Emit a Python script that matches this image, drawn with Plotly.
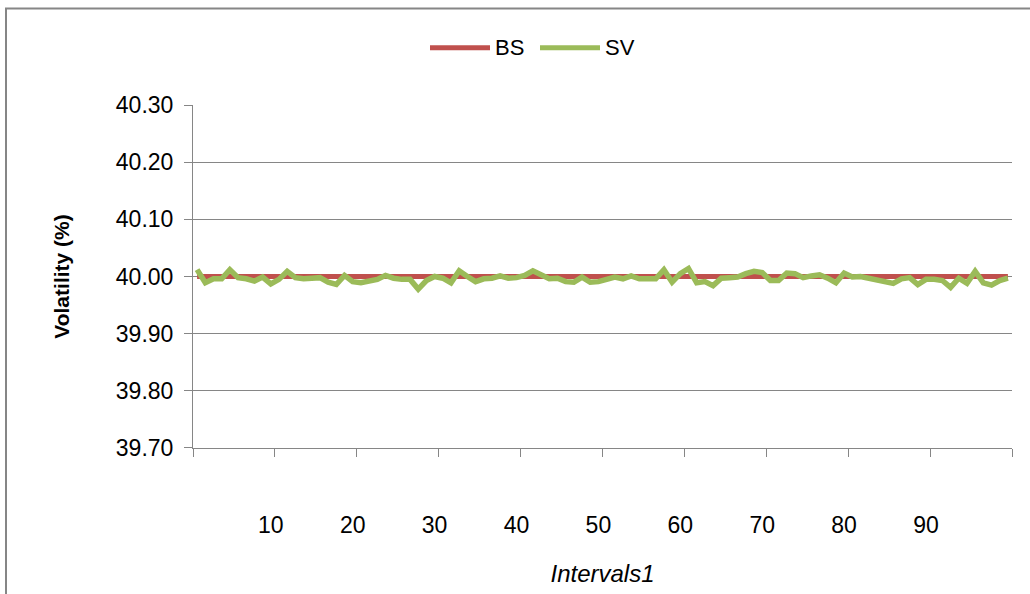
import plotly.graph_objects as go

# Interval index (category axis) and the two volatility series, in percent
intervals = list(range(1, 101))
bs_vol = [40.00] * 100
sv_vol = [
    40.012, 39.989, 39.996, 39.996, 40.012, 39.998, 39.996, 39.992, 39.999, 39.987,
    39.995, 40.009, 39.998, 39.996, 39.997, 39.998, 39.990, 39.986, 40.002, 39.991,
    39.989, 39.991, 39.995, 40.002, 39.997, 39.995, 39.995, 39.978, 39.993, 40.000,
    39.997, 39.989, 40.010, 40.000, 39.991, 39.996, 39.997, 40.001, 39.997, 39.998,
    40.002, 40.010, 40.003, 39.996, 39.997, 39.991, 39.990, 39.999, 39.990, 39.991,
    39.995, 39.999, 39.996, 40.001, 39.996, 39.995, 39.996, 40.012, 39.990, 40.005,
    40.014, 39.989, 39.991, 39.984, 39.997, 39.998, 39.999, 40.005, 40.009, 40.007,
    39.993, 39.993, 40.006, 40.005, 39.998, 40.001, 40.003, 39.997, 39.989, 40.006,
    39.999, 40.000, 39.997, 39.993, 39.989, 39.988, 39.996, 39.998, 39.986, 39.995,
    39.995, 39.993, 39.981, 39.997, 39.988, 40.009, 39.989, 39.985, 39.993, 39.997,
]
series_names = ["BS", "SV"]
series_colors = ["#C0504D", "#9BBB59"]
x_tick_values = [10, 20, 30, 40, 50, 60, 70, 80, 90]
y_tick_values = [39.70, 39.80, 39.90, 40.00, 40.10, 40.20, 40.30]

FONT = "Liberation Sans, Arial, sans-serif"
GRAY = "#868686"

# Plot-area geometry in pixels (figure is 1030 x 594)
L, R, T, B = 193, 1012, 105, 453
W, H = R - L, B - T


def px_x(p):
    return (p - L) / W


def px_y(p):
    return (B - p) / H


fig = go.Figure()
fig.add_trace(go.Scatter(
    x=intervals, y=bs_vol, name=series_names[0], mode="lines",
    line=dict(color=series_colors[0], width=5), showlegend=False,
))
fig.add_trace(go.Scatter(
    x=intervals, y=sv_vol, name=series_names[1], mode="lines",
    line=dict(color=series_colors[1], width=5.5), showlegend=False,
))

shapes = [
    # outer chart frame
    dict(type="rect", xref="paper", yref="paper",
         x0=px_x(6), x1=px_x(1080), y0=px_y(640), y1=px_y(7),
         line=dict(color=GRAY, width=2), layer="below"),
]
annotations = []

# legend drawn at the top centre of the chart frame
legend_items = [(430, 490, 493), (540, 600, 603)]
for (lx0, lx1, tx), name, color in zip(legend_items, series_names, series_colors):
    shapes.append(dict(type="line", xref="paper", yref="paper",
                       x0=px_x(lx0), x1=px_x(lx1), y0=px_y(47), y1=px_y(47),
                       line=dict(color=color, width=5)))
    annotations.append(dict(text=name, xref="paper", yref="paper",
                            x=px_x(tx), y=px_y(47), xanchor="left", yanchor="middle",
                            showarrow=False, font=dict(family=FONT, size=22, color="black")))

fig.update_layout(
    width=1030, height=594,
    margin=dict(l=L, r=1030 - R, t=T, b=594 - B, pad=0),
    paper_bgcolor="white", plot_bgcolor="white",
    font=dict(family=FONT, color="black"),
    showlegend=False,
    shapes=shapes,
    annotations=annotations,
    xaxis=dict(
        range=[0.5, 100.5],
        tickmode="array", tickvals=x_tick_values,
        ticks="", ticklabelstandoff=56,
        tickfont=dict(size=23, family=FONT, color="black"),
        showgrid=False, zeroline=False,
        showline=True, linecolor=GRAY, linewidth=1,
        minor=dict(tickmode="linear", tick0=0.5, dtick=10, ticks="outside",
                   ticklen=8, tickcolor=GRAY, tickwidth=1, showgrid=False),
        title=dict(text="<i>Intervals1</i>", standoff=28,
                   font=dict(size=24, family=FONT, color="black")),
    ),
    yaxis=dict(
        range=[39.6999, 40.3001],
        tickmode="array", tickvals=y_tick_values, tickformat=".2f",
        ticks="outside", ticklen=8, tickcolor=GRAY, tickwidth=1,
        ticklabelstandoff=6,
        tickfont=dict(size=23, family=FONT, color="black"),
        showgrid=True, gridcolor=GRAY, gridwidth=1,
        zeroline=False,
        showline=True, linecolor=GRAY, linewidth=1,
        title=dict(text="<b>Volatility (%)</b>", standoff=40,
                   font=dict(size=21, family=FONT, color="black")),
    ),
)

fig.write_html("out.html")
